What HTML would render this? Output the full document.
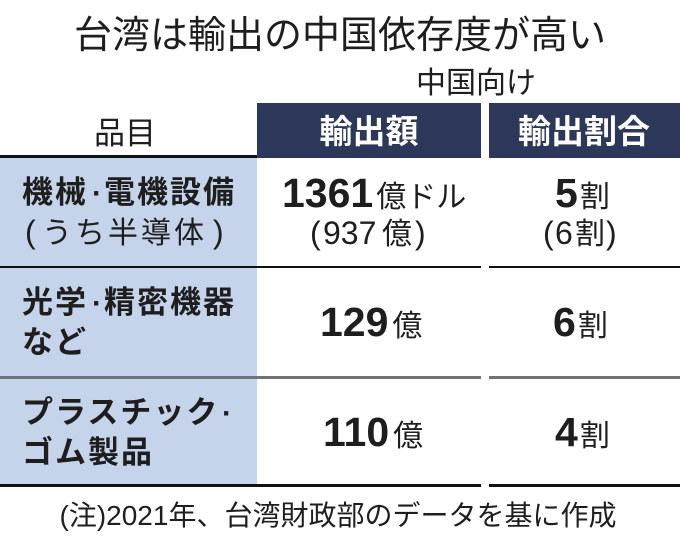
<!DOCTYPE html>
<html>
<head>
<meta charset="utf-8">
<style>
  html, body { margin: 0; padding: 0; background: #fff; }
  svg { display: block; }
  text { font-family: "Liberation Sans", "Noto Sans CJK JP", sans-serif; fill: #1e1e1e; }
  .b { font-weight: 700; }
  .w { fill: #ffffff; }
</style>
</head>
<body>
<svg width="680" height="542" viewBox="0 0 680 542" xmlns="http://www.w3.org/2000/svg">
  <rect x="0" y="0" width="680" height="542" fill="#ffffff"/>

  <!-- Title -->
  <text x="340" y="48" font-size="38" text-anchor="middle">台湾は輸出の中国依存度が高い</text>

  <!-- Subheader -->
  <text x="416" y="93" font-size="30">中国向け</text>

  <!-- Header boxes -->
  <rect x="257" y="103" width="224" height="55" fill="#2d3759"/>
  <rect x="489" y="103" width="191" height="55" fill="#2d3759"/>
  <text x="125" y="144" font-size="31" text-anchor="middle">品目</text>
  <text class="b w" x="369" y="143" font-size="33" text-anchor="middle">輸出額</text>
  <text class="b w" x="584" y="143" font-size="33" text-anchor="middle">輸出割合</text>

  <!-- Left column background -->
  <rect x="0" y="158" width="257" height="327" fill="#c5d4ea"/>

  <!-- Lines -->
  <rect x="0" y="155" width="257" height="3" fill="#111111"/>
  <rect x="0" y="266" width="481" height="2" fill="#111111"/>
  <rect x="489" y="266" width="191" height="2" fill="#111111"/>
  <rect x="0" y="376" width="481" height="3" fill="#6f7478"/>
  <rect x="489" y="376" width="191" height="3" fill="#6f7478"/>
  <rect x="0" y="484" width="481" height="3" fill="#111111"/>
  <rect x="489" y="484" width="191" height="3" fill="#111111"/>

  <!-- Row 1 -->
  <text class="b" y="203" font-size="31"><tspan x="22" letter-spacing="2">機械</tspan><tspan x="92" font-size="30">·</tspan><tspan x="104" letter-spacing="2">電機設備</tspan></text>
  <text y="243" font-size="30"><tspan x="25" font-size="32">(</tspan><tspan x="42" letter-spacing="3">うち半導体</tspan><tspan x="213" font-size="32">)</tspan></text>

  <text x="282" y="207"><tspan class="b" font-size="41">1361</tspan><tspan font-size="30" dx="3">億ドル</tspan></text>
  <text y="244" font-size="30"><tspan x="310" font-size="32">(</tspan><tspan x="323" font-size="32">937</tspan><tspan x="382">億</tspan><tspan x="415" font-size="32">)</tspan></text>

  <text x="555" y="207"><tspan class="b" font-size="41">5</tspan><tspan font-size="30" dx="2">割</tspan></text>
  <text y="244" font-size="30"><tspan x="543" font-size="32">(</tspan><tspan x="555" font-size="32">6</tspan><tspan x="575">割</tspan><tspan x="606" font-size="32">)</tspan></text>

  <!-- Row 2 -->
  <text class="b" y="313" font-size="31"><tspan x="22" letter-spacing="2">光学</tspan><tspan x="92" font-size="30">·</tspan><tspan x="104" letter-spacing="2">精密機器</tspan></text>
  <text class="b" x="22" y="353" font-size="31" letter-spacing="2">など</text>

  <text x="320" y="336"><tspan class="b" font-size="41">129</tspan><tspan font-size="30" dx="4">億</tspan></text>
  <text x="553" y="336"><tspan class="b" font-size="41">6</tspan><tspan font-size="30" dx="2">割</tspan></text>

  <!-- Row 3 -->
  <text class="b" y="423" font-size="31"><tspan x="22" letter-spacing="2">プラスチック</tspan><tspan x="222" font-size="30">·</tspan></text>
  <text class="b" x="22" y="463" font-size="31" letter-spacing="2">ゴム製品</text>

  <text x="323" y="446"><tspan class="b" font-size="41">110</tspan><tspan font-size="30" dx="4">億</tspan></text>
  <text x="555" y="446"><tspan class="b" font-size="41">4</tspan><tspan font-size="30" dx="2">割</tspan></text>

  <!-- Footnote -->
  <text x="338" y="525" font-size="28" text-anchor="middle">(注)2021年、台湾財政部のデータを基に作成</text>
</svg>
</body>
</html>
